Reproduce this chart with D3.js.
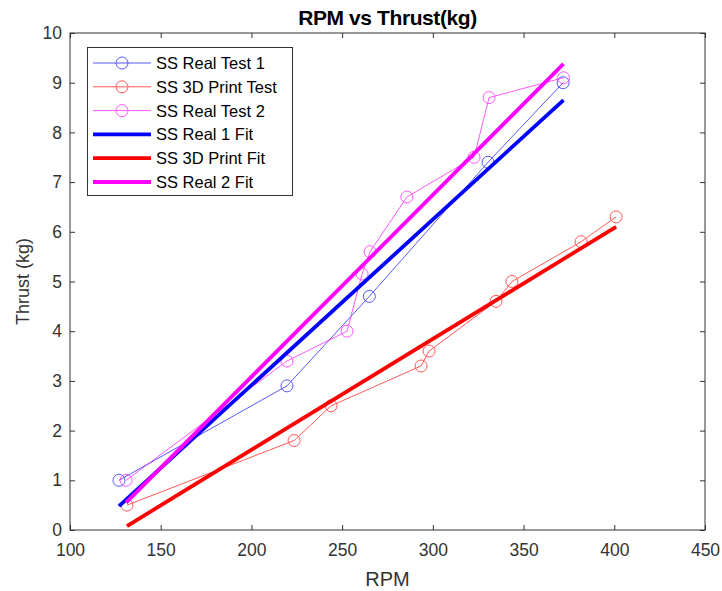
<!DOCTYPE html>
<html><head><meta charset="utf-8">
<script src="https://cdn.jsdelivr.net/npm/d3@7"></script>
<style>body{margin:0;background:#fff}svg{display:block}text{font-family:"Liberation Sans",Arial,sans-serif}</style>
</head><body>
<svg id="c" width="722" height="591"></svg>
<script>
const xTicks=[100,150,200,250,300,350,400,450];
const yTicks=[0,1,2,3,4,5,6,7,8,9,10];
const real1RPM=[127,219.6,265,330.4,371.8];
const real1Thrust=[1.0,2.9,4.7,7.4,9.0];
const printRPM=[131.4,223.5,243.9,293.5,297.9,334.8,343.6,381.7,401];
const printThrust=[0.5,1.8,2.5,3.3,3.6,4.6,5.0,5.8,6.3];
const real2RPM=[130.9,219.6,252.7,261,265.4,285.7,322.7,331,372];
const real2Thrust=[1.0,3.4,4.0,5.15,5.6,6.7,7.5,8.7,9.1];
const real1FitRPM=[127,372];const real1FitThrust=[0.48,8.65];
const printFitRPM=[131.4,401];const printFitThrust=[0.08,6.1];
const real2FitRPM=[130.9,372];const real2FitThrust=[0.55,9.38];
const legendLabels=["SS Real Test 1","SS 3D Print Test","SS Real Test 2","SS Real 1 Fit","SS 3D Print Fit","SS Real 2 Fit"];

const svg=d3.select("#c");
const L=70,R=705,T=33,B=530;
const x=d3.scaleLinear().domain([100,450]).range([L,R]);
const y=d3.scaleLinear().domain([0,10]).range([B,T]);
const ax="#333333";

const tickLen=5;
const gx=svg.append("g").attr("transform",`translate(0,${B})`).call(d3.axisBottom(x).tickValues(xTicks).tickSize(-tickLen).tickPadding(14).tickSizeOuter(0));
const gy=svg.append("g").attr("transform",`translate(${L},0)`).call(d3.axisLeft(y).tickValues(yTicks).tickSize(-tickLen).tickPadding(8).tickSizeOuter(0));
const gxt=svg.append("g").attr("transform",`translate(0,${T})`).call(d3.axisTop(x).tickValues(xTicks).tickSize(-tickLen).tickFormat("").tickSizeOuter(0));
const gyr=svg.append("g").attr("transform",`translate(${R},0)`).call(d3.axisRight(y).tickValues(yTicks).tickSize(-tickLen).tickFormat("").tickSizeOuter(0));
[gx,gy,gxt,gyr].forEach(g=>{g.select(".domain").remove();g.selectAll("line").attr("stroke",ax);g.selectAll("text").attr("fill",ax).style("font-size","17.5px").style("font-family","'Liberation Sans',Arial,sans-serif");});
svg.append("rect").attr("x",L).attr("y",T).attr("width",R-L).attr("height",B-T).attr("fill","none").attr("stroke",ax).attr("stroke-width",1);

const line=d3.line().x(d=>x(d[0])).y(d=>y(d[1]));
const zip=(a,b)=>a.map((v,i)=>[v,b[i]]);
const tests=[[real1RPM,real1Thrust,"#0000ff"],[printRPM,printThrust,"#ff0000"],[real2RPM,real2Thrust,"#ff00ff"]];
const fits=[[real1FitRPM,real1FitThrust,"#0000ff"],[printFitRPM,printFitThrust,"#ff0000"],[real2FitRPM,real2FitThrust,"#ff00ff"]];
const plotG=svg.append("g");
tests.forEach(([xs,ys,c])=>{
  const d=zip(xs,ys);
  const g=plotG.append("g").attr("opacity",0.65);
  g.append("path").attr("d",line(d)).attr("fill","none").attr("stroke",c).attr("stroke-width",1);
  g.selectAll("circle").data(d).join("circle").attr("cx",p=>x(p[0])).attr("cy",p=>y(p[1])).attr("r",6).attr("fill","none").attr("stroke",c).attr("stroke-width",1);
});
fits.forEach(([xs,ys,c])=>{
  plotG.append("path").attr("d",line(zip(xs,ys))).attr("fill","none").attr("stroke",c).attr("stroke-width",3.8);
});

const lg=svg.append("g");
lg.append("rect").attr("x",87.5).attr("y",47.5).attr("width",205).attr("height",148).attr("fill","#fff").attr("stroke",ax).attr("stroke-width",1);
const cols=["#0000ff","#ff0000","#ff00ff","#0000ff","#ff0000","#ff00ff"];
legendLabels.forEach((t,i)=>{
  const yy=63+i*23.8;
  if(i<3){
    const g=lg.append("g").attr("opacity",0.65);
    g.append("line").attr("x1",93).attr("x2",151).attr("y1",yy).attr("y2",yy).attr("stroke",cols[i]).attr("stroke-width",1);
    g.append("circle").attr("cx",122).attr("cy",yy).attr("r",6).attr("fill","none").attr("stroke",cols[i]);
  } else {
    lg.append("line").attr("x1",93).attr("x2",151).attr("y1",yy).attr("y2",yy).attr("stroke",cols[i]).attr("stroke-width",3.8);
  }
  lg.append("text").attr("x",156).attr("y",yy+6).text(t).style("font-size","16.5px").attr("fill","#000");
});

svg.append("text").attr("x",(L+R)/2).attr("y",25).attr("text-anchor","middle").style("font-size","21px").style("font-weight","bold").style("letter-spacing","-0.4px").attr("fill","#000").text("RPM vs Thrust(kg)");
svg.append("text").attr("x",(L+R)/2).attr("y",586).attr("text-anchor","middle").style("font-size","20px").attr("fill",ax).text("RPM");
svg.append("text").attr("transform",`translate(29,${(T+B)/2}) rotate(-90)`).attr("text-anchor","middle").style("font-size","18px").attr("fill",ax).text("Thrust (kg)");
</script>
</body></html>
